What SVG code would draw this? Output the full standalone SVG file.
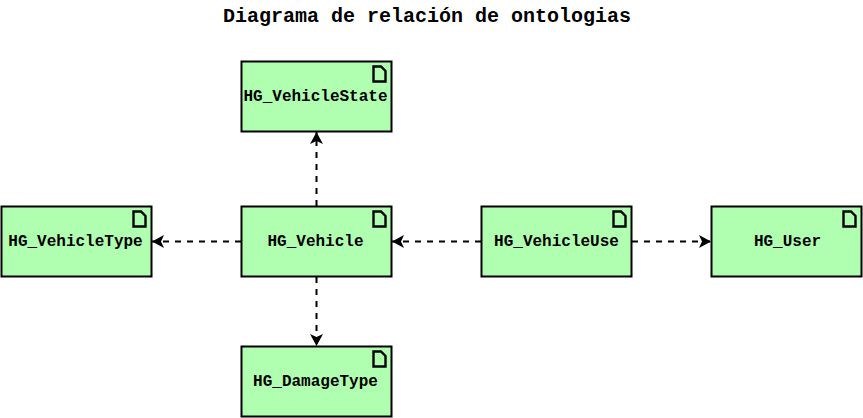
<svg xmlns="http://www.w3.org/2000/svg" width="863" height="418" viewBox="0 0 863 418">
<style>
.box{fill:#b0ffb0;stroke:#000;stroke-width:2}
.doc{fill:none;stroke:#000;stroke-width:2.400}
.lbl{font-family:"Liberation Mono",monospace;font-size:16px;font-weight:bold;text-anchor:middle;fill:#000}
.ttl{font-family:"Liberation Mono",monospace;font-size:20px;font-weight:bold;text-anchor:middle;fill:#000}
.c{fill:none;stroke:#000;stroke-width:2;stroke-dasharray:6 6}
</style>
<defs>
<marker id="a" markerUnits="userSpaceOnUse" markerWidth="16" markerHeight="16" refX="13" refY="8" orient="auto"><path d="M1 1.500 L13 8 L1 14.500 L4 8 Z" fill="#000"/></marker>
<g id="d"><path class="doc" d="M0 0H7.500L12 4.500V15H0Z"/></g>
</defs>
<rect width="863" height="418" fill="#fff"/>
<text class="ttl" x="427" y="22">Diagrama de relación de ontologias</text>
<g id="connectors">
<path class="c" marker-end="url(#a)" d="M316.500 206V132"/>
<path class="c" marker-end="url(#a)" d="M241 241.500H152"/>
<path class="c" marker-end="url(#a)" d="M316.500 277V346"/>
<path class="c" marker-end="url(#a)" d="M481 241.500H392"/>
<path class="c" marker-end="url(#a)" d="M632 241.500H711"/>
</g>
<g id="HG_VehicleState"><rect class="box" x="241.500" y="61.500" width="150" height="70"/><use href="#d" x="373.500" y="66.500"/><text class="lbl" x="315.500" y="101">HG_VehicleState</text></g>
<g id="HG_VehicleType"><rect class="box" x="1.500" y="206.500" width="150" height="70"/><use href="#d" x="133.500" y="211.500"/><text class="lbl" x="75.500" y="246">HG_VehicleType</text></g>
<g id="HG_Vehicle"><rect class="box" x="241.500" y="206.500" width="150" height="70"/><use href="#d" x="373.500" y="211.500"/><text class="lbl" x="315.500" y="246">HG_Vehicle</text></g>
<g id="HG_VehicleUse"><rect class="box" x="481.500" y="206.500" width="150" height="70"/><use href="#d" x="613.500" y="211.500"/><text class="lbl" x="556.500" y="246">HG_VehicleUse</text></g>
<g id="HG_User"><rect class="box" x="711.500" y="206.500" width="150" height="70"/><use href="#d" x="843.500" y="211.500"/><text class="lbl" x="787.500" y="246">HG_User</text></g>
<g id="HG_DamageType"><rect class="box" x="241.500" y="346.500" width="150" height="70"/><use href="#d" x="373.500" y="351.500"/><text class="lbl" x="315.500" y="386">HG_DamageType</text></g>
</svg>
